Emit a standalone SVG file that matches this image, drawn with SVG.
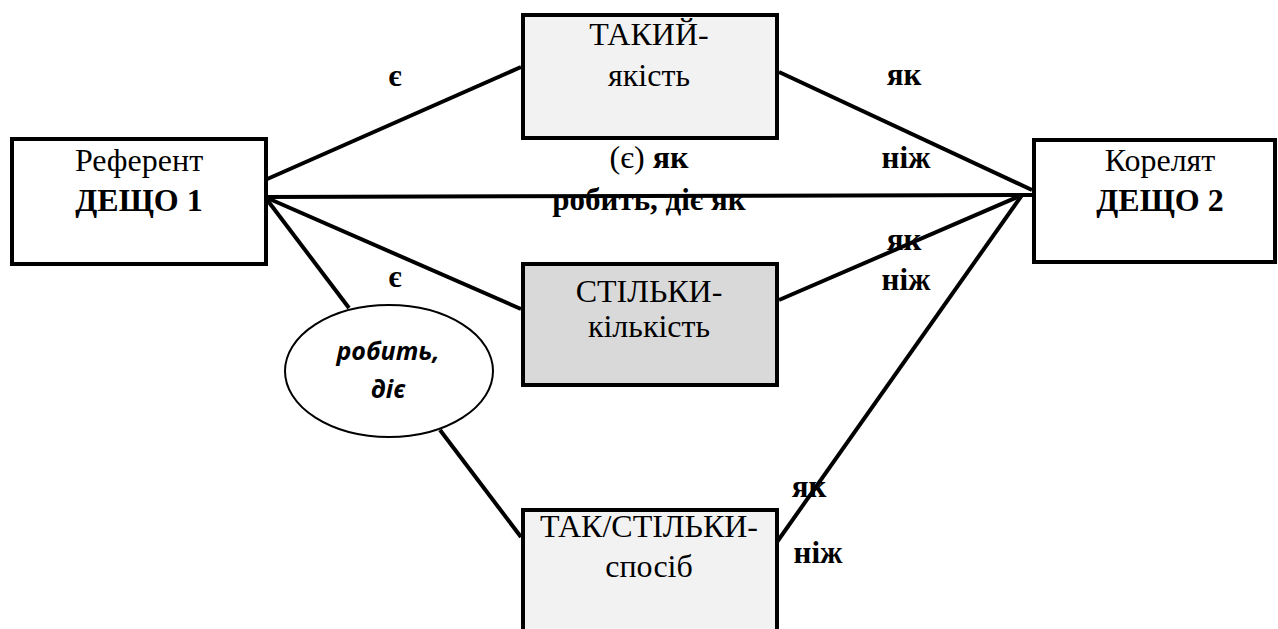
<svg xmlns="http://www.w3.org/2000/svg" width="1278" height="629" viewBox="0 0 1278 629">
<style>
.box{stroke:#000;stroke-width:4}
.t{font-family:"Liberation Serif","Times New Roman",serif;font-size:32px;fill:#000;text-anchor:middle}
.b{font-weight:bold}
.lbl{font-family:"Liberation Serif","Times New Roman",serif;font-size:31px;font-weight:bold;fill:#000;text-anchor:middle}
.ell{font-family:"Open Sans","Noto Sans",sans-serif;font-size:25px;font-weight:bold;font-style:italic;fill:#000;text-anchor:middle}
.c{stroke:#000;stroke-width:4;fill:none}
</style>
<rect width="1278" height="629" fill="#fff"/>
<g id="connectors">
<line class="c" x1="265" y1="180" x2="521" y2="67"/>
<line class="c" x1="779" y1="72" x2="1032" y2="190"/>
<line class="c" x1="265" y1="197" x2="1032" y2="195"/>
<line class="c" x1="265" y1="197" x2="521" y2="309"/>
<line class="c" x1="779" y1="300" x2="1022" y2="195"/>
<line class="c" x1="265" y1="197" x2="349" y2="308"/>
<line class="c" x1="440" y1="430" x2="521" y2="537"/>
<line class="c" x1="777" y1="542" x2="1022" y2="195"/>
</g>
<g id="labels">
<text class="lbl" x="395" y="86">є</text>
<text class="lbl" x="904" y="85">як</text>
<text class="lbl" x="906" y="168">ніж</text>
<text class="t" x="649" y="168">(є) <tspan class="b">як</tspan></text>
<text class="lbl" x="649" y="210">робить, діє як</text>
<text class="lbl" x="904" y="250">як</text>
<text class="lbl" x="906" y="290">ніж</text>
<text class="lbl" x="395" y="287">є</text>
<text class="lbl" x="809" y="497">як</text>
<text class="lbl" x="818" y="563">ніж</text>
</g>
<g id="referent">
<rect class="box" x="12" y="139" width="254" height="125" fill="#fff"/>
<text class="t" x="139" y="171">Референт</text>
<text class="t b" x="139" y="211">ДЕЩО 1</text>
</g>
<g id="korelyat">
<rect class="box" x="1034" y="140" width="241" height="122" fill="#fff"/>
<text class="t" x="1160" y="171">Корелят</text>
<text class="t b" x="1160" y="211">ДЕЩО 2</text>
</g>
<g id="takyi">
<rect class="box" x="523" y="15" width="254" height="123" fill="#f2f2f2"/>
<text class="t" x="649" y="45">ТАКИЙ-</text>
<text class="t" x="649" y="86">якість</text>
</g>
<g id="stilky">
<rect class="box" x="523" y="264" width="254" height="121" fill="#d9d9d9"/>
<text class="t" x="649" y="302">СТІЛЬКИ-</text>
<text class="t" x="649" y="337">кількість</text>
</g>
<g id="tak-stilky">
<rect class="box" x="523" y="510" width="254" height="130" fill="#f2f2f2"/>
<text class="t" x="649" y="537">ТАК/СТІЛЬКИ-</text>
<text class="t" x="649" y="577">спосіб</text>
</g>
<g id="robyt">
<ellipse cx="389" cy="371" rx="104" ry="66" fill="#fff" stroke="#000" stroke-width="2"/>
<text class="ell" x="388" y="360">робить,</text>
<text class="ell" x="388" y="398">діє</text>
</g>
</svg>
